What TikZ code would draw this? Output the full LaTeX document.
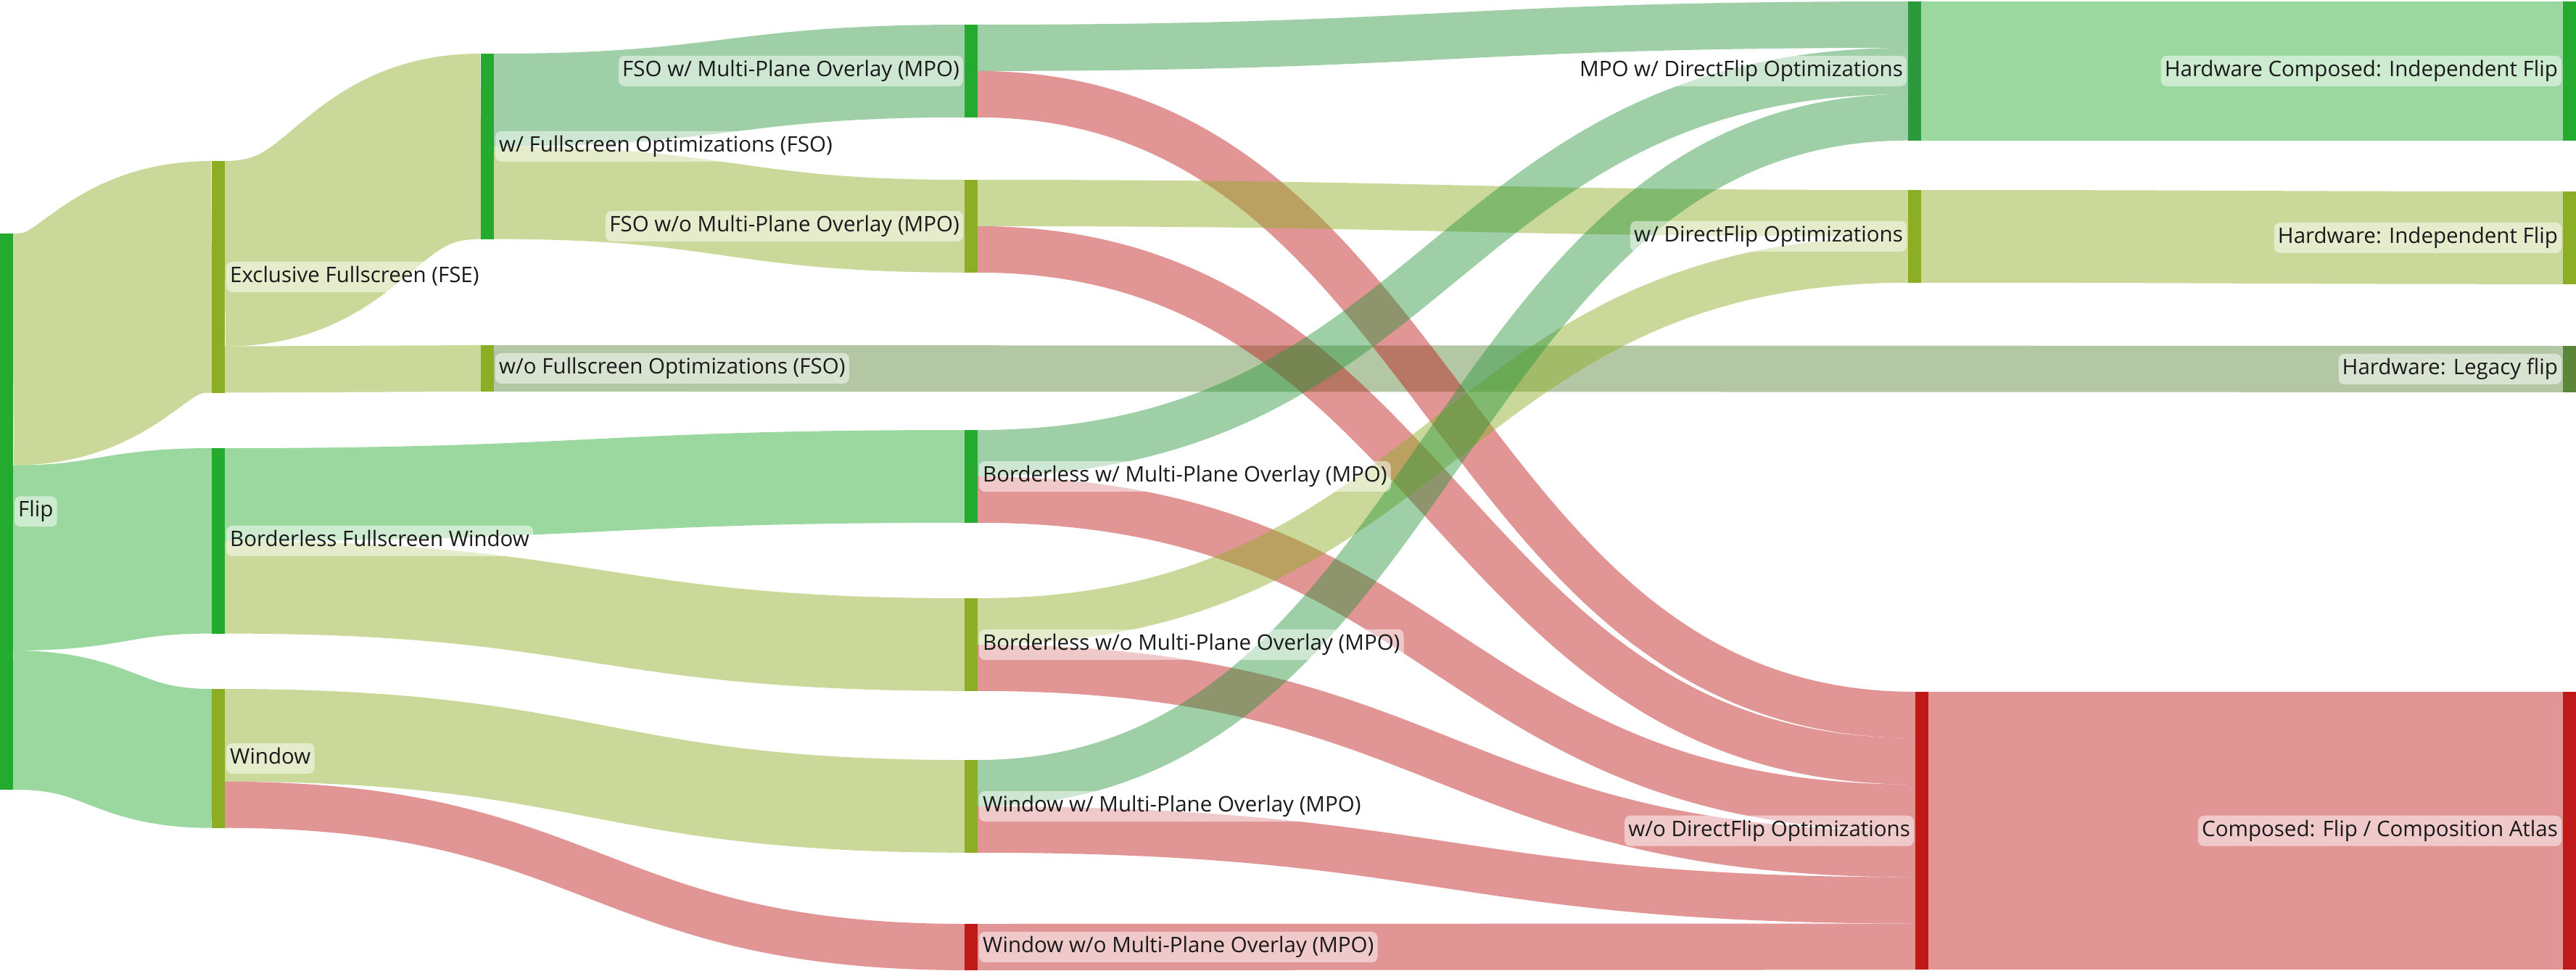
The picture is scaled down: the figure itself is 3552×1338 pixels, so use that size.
\documentclass[tikz,border=0pt]{standalone}
\usepackage{fontspec}
\setmainfont{Open Sans}
\usetikzlibrary{calc}
\definecolor{cgreen}{HTML}{24AA2E}
\definecolor{cdgreen}{HTML}{2C9A3C}
\definecolor{cggreen}{HTML}{2C973E}
\definecolor{colive}{HTML}{8CAE24}
\definecolor{cred}{HTML}{C0191A}
\definecolor{clegacy}{HTML}{5B8539}
\definecolor{ctext}{HTML}{1A1A1A}
\pgfdeclarelayer{bgfill}
\pgfdeclarelayer{links}
\pgfsetlayers{bgfill,links,main}
\newcommand{\skU}{63.9}
\tikzset{
  skbar/.style={draw=none, inner sep=0pt, outer sep=0pt, minimum width=9pt},
  sklinkstyle/.style={draw opacity=0.46, line cap=butt},
  sklabel/.style={fill=white, fill opacity=0.5, text opacity=1, text=ctext,
    rounded corners=4pt, inner xsep=2.6pt, inner ysep=3.2pt, outer sep=0pt,
    text height=11pt, text depth=3.6pt, font=\fontsize{14.75pt}{17pt}\selectfont},
  lablR/.style={sklabel, anchor=west},
  lablL/.style={sklabel, anchor=east}
}
\newcommand{\skbar}[5]{%
  \node[skbar, fill=#5, minimum height=#4*0.5pt, anchor=north west] (#1) at (#2,#3) {};}
% link: source node, source offset (units), target node, target offset (units), width (units), colour
\newcommand{\sklink}[6]{%
  \coordinate (la) at ($(#1.north east)+(0,#2*\skU+#5*\skU/2)$);
  \coordinate (lb) at ($(#3.north west)+(0,#4*\skU+#5*\skU/2)$);
  \coordinate (lm) at ($(la)!.5!(lb)$);
  \draw[sklinkstyle,draw=#6,line width=#5*\skU*0.5pt] (la) .. controls (lm |- la) and (lm |- lb) .. (lb);}
\begin{document}
\begin{tikzpicture}[x=0.5pt,y=-0.5pt]
\begin{pgfonlayer}{bgfill}
\fill[white] (0,0) rectangle (3552,1338);
\end{pgfonlayer}
\useasboundingbox (0,0) rectangle (3552,1338);
% bars
\skbar{flip}{0}{322}{766.8}{cgreen}
\skbar{fse}{292}{222}{319.5}{colive}
\skbar{bfw}{292}{618}{255.6}{cgreen}
\skbar{win}{292}{950}{191.7}{colive}
\skbar{wfso}{663}{74}{255.6}{cgreen}
\skbar{wofso}{663}{476}{63.9}{colive}
\skbar{fsompo}{1330}{34}{127.8}{cgreen}
\skbar{fsonompo}{1330}{248}{127.8}{colive}
\skbar{bmpo}{1330}{593}{127.8}{cgreen}
\skbar{bnompo}{1330}{825}{127.8}{colive}
\skbar{wmpo}{1330}{1048}{127.8}{colive}
\skbar{wnompo}{1330}{1274}{63.9}{cred}
\skbar{mpodf}{2631}{2}{191.7}{cdgreen}
\skbar{df}{2631}{262}{127.8}{colive}
\skbar{nodf}{2641}{954}{383.4}{cred}
\skbar{hcif}{3534}{2}{191.7}{cgreen}
\skbar{hif}{3534}{264}{127.8}{colive}
\skbar{legacy}{3534}{477}{63.9}{clegacy}
\skbar{composed}{3534}{954}{383.4}{cred}
% links
\begin{pgfonlayer}{links}
\sklink{wofso}{0}{legacy}{0}{1}{clegacy}
% red
\sklink{win}{2}{wnompo}{0}{1}{cred}
\sklink{fsompo}{1}{nodf}{0}{1}{cred}
\sklink{fsonompo}{1}{nodf}{1}{1}{cred}
\sklink{bmpo}{1}{nodf}{2}{1}{cred}
\sklink{bnompo}{1}{nodf}{3}{1}{cred}
\sklink{wmpo}{1}{nodf}{4}{1}{cred}
\sklink{wnompo}{0}{nodf}{5}{1}{cred}
\sklink{nodf}{0}{composed}{0}{6}{cred}
% olive
\sklink{flip}{0}{fse}{0}{5}{colive}
\sklink{fse}{0}{wfso}{0}{4}{colive}
\sklink{fse}{4}{wofso}{0}{1}{colive}
\sklink{wfso}{2}{fsonompo}{0}{2}{colive}
\sklink{bfw}{2}{bnompo}{0}{2}{colive}
\sklink{win}{0}{wmpo}{0}{2}{colive}
\sklink{fsonompo}{0}{df}{0}{1}{colive}
\sklink{bnompo}{0}{df}{1}{1}{colive}
\sklink{df}{0}{hif}{0}{2}{colive}
% green
\sklink{flip}{5}{bfw}{0}{4}{cgreen}
\sklink{flip}{9}{win}{0}{3}{cgreen}
\sklink{bfw}{0}{bmpo}{0}{2}{cgreen}
\sklink{wfso}{0}{fsompo}{0}{2}{cggreen}
\sklink{fsompo}{0}{mpodf}{0}{1}{cggreen}
\sklink{bmpo}{0}{mpodf}{1}{1}{cggreen}
\sklink{wmpo}{0}{mpodf}{2}{1}{cggreen}
\sklink{mpodf}{0}{hcif}{0}{3}{cgreen}
\end{pgfonlayer}
% labels
\node[lablR] (flip-l) at ([xshift=1pt]flip.east) {Flip};
\node[lablR] (fse-l) at ([xshift=1pt]fse.east) {Exclusive Fullscreen (FSE)};
\node[lablR] (bfw-l) at ([xshift=1pt]bfw.east) {Borderless Fullscreen Window};
\node[lablR] (win-l) at ([xshift=1pt]win.east) {Window};
\node[lablR] (wfso-l) at ([xshift=1pt]wfso.east) {w/ Fullscreen Optimizations (FSO)};
\node[lablR] (wofso-l) at ([xshift=1pt]wofso.east) {w/o Fullscreen Optimizations (FSO)};
\node[lablL] (fsompo-l) at ([xshift=-1pt]fsompo.west) {FSO w/ Multi-Plane Overlay (MPO)};
\node[lablL] (fsonompo-l) at ([xshift=-1pt]fsonompo.west) {FSO w/o Multi-Plane Overlay (MPO)};
\node[lablR] (bmpo-l) at ([xshift=1pt]bmpo.east) {Borderless w/ Multi-Plane Overlay (MPO)};
\node[lablR] (bnompo-l) at ([xshift=1pt]bnompo.east) {Borderless w/o Multi-Plane Overlay (MPO)};
\node[lablR] (wmpo-l) at ([xshift=1pt]wmpo.east) {Window w/ Multi-Plane Overlay (MPO)};
\node[lablR] (wnompo-l) at ([xshift=1pt]wnompo.east) {Window w/o Multi-Plane Overlay (MPO)};
\node[lablL] (mpodf-l) at ([xshift=-1pt]mpodf.west) {MPO w/ DirectFlip Optimizations};
\node[lablL] (df-l) at ([xshift=-1pt]df.west) {w/ DirectFlip Optimizations};
\node[lablL] (nodf-l) at ([xshift=-1pt]nodf.west) {w/o DirectFlip Optimizations};
\node[lablL] (hcif-l) at ([xshift=-1pt]hcif.west) {Hardware Composed: Independent Flip};
\node[lablL] (hif-l) at ([xshift=-1pt]hif.west) {Hardware: Independent Flip};
\node[lablL] (legacy-l) at ([xshift=-1pt]legacy.west) {Hardware: Legacy flip};
\node[lablL] (composed-l) at ([xshift=-1pt]composed.west) {Composed: Flip / Composition Atlas};
\end{tikzpicture}
\end{document}
